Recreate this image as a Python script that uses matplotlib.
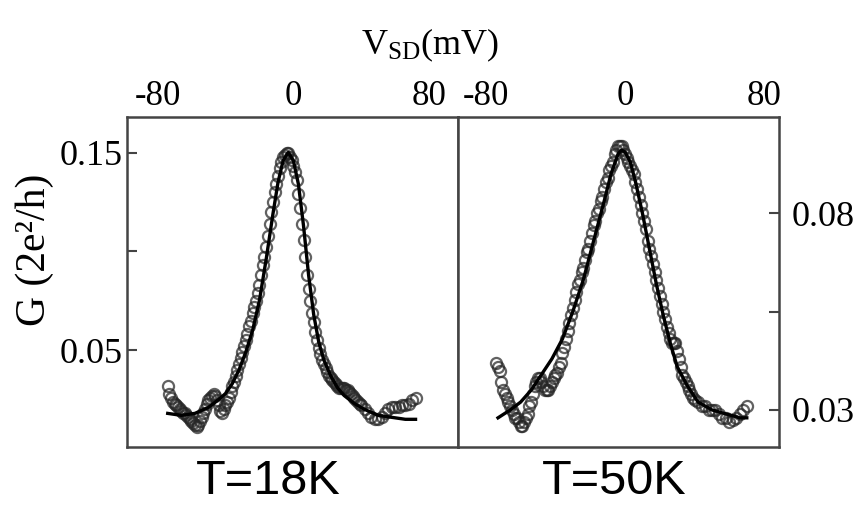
import matplotlib
matplotlib.use('Agg')
import matplotlib.pyplot as plt

plt.rcParams['font.family'] = 'serif'
plt.rcParams['font.serif'] = ['Liberation Serif', 'DejaVu Serif']
plt.rcParams['mathtext.fontset'] = 'custom'
plt.rcParams['mathtext.rm'] = 'Liberation Serif'
plt.rcParams['mathtext.it'] = 'Liberation Serif:italic'
plt.rcParams['axes.unicode_minus'] = False

# T = 18 K : measured points (V_SD in mV, G in 2e^2/h)
v18 = [-74, -73, -72, -71, -70, -69, -68, -67, -66, -65, -64, -63, -62, -61, -60, -59, -58, -57,
       -56, -55, -54, -53, -52, -51, -50, -49, -48, -47, -46, -45, -44, -43, -42, -41,
       -40, -39, -38, -37, -36, -35, -34, -33, -32, -31, -30, -29, -28, -27, -26, -25, -24, -23,
       -22, -21, -20, -19, -18, -17, -16, -15, -14, -13, -12, -11, -10, -9, -8, -7, -6, -5, -4,
       -3, -2, -1, 0, 1, 2, 3, 4, 5, 6, 7, 8, 9, 10, 11, 12, 13, 14, 15, 16, 17, 18, 19, 20,
       21, 22, 23, 24, 25, 26, 27, 28, 29, 30, 31, 32, 33, 34, 35, 36, 37, 38, 39, 40,
       42, 44, 46, 48, 50, 52, 54, 56, 58, 60, 62, 64, 66, 68, 70, 72]
g18 = [0.032, 0.028, 0.026, 0.024, 0.023, 0.022, 0.021, 0.020, 0.019, 0.018, 0.018, 0.017, 0.016,
       0.015, 0.014, 0.013, 0.012, 0.011, 0.012, 0.014, 0.016, 0.018, 0.020, 0.023, 0.025, 0.026,
       0.027, 0.028, 0.027, 0.025, 0.022, 0.019, 0.018, 0.020,
       0.022, 0.024, 0.026, 0.029, 0.032, 0.034, 0.037, 0.040, 0.043, 0.046, 0.049, 0.052, 0.055,
       0.058, 0.062, 0.065, 0.069, 0.072, 0.075, 0.079, 0.083, 0.088, 0.093, 0.097, 0.102, 0.108,
       0.114, 0.120, 0.125, 0.130, 0.134, 0.138, 0.142, 0.145, 0.148, 0.149, 0.150, 0.150, 0.148,
       0.146, 0.143, 0.140, 0.136, 0.129, 0.122, 0.114, 0.106, 0.097, 0.088, 0.081, 0.075, 0.069,
       0.064, 0.059, 0.055, 0.051, 0.048, 0.045, 0.043, 0.041, 0.039, 0.037, 0.036, 0.035, 0.034,
       0.033, 0.032, 0.031, 0.031, 0.031, 0.031, 0.030, 0.030, 0.029, 0.028, 0.027, 0.026, 0.025,
       0.024, 0.023, 0.022,
       0.020, 0.018, 0.016, 0.015, 0.015, 0.016, 0.018, 0.020, 0.021, 0.021, 0.021, 0.022, 0.022,
       0.023, 0.025, 0.026]

# T = 18 K : fit
fv18 = [-74, -66, -58, -50, -44, -40, -36, -32, -28, -24, -20, -16, -12, -9, -6, -3, 0, 3, 6, 9,
        12, 15, 18, 22, 26, 30, 36, 42, 50, 58, 66, 72]
fg18 = [0.018, 0.017, 0.018, 0.021, 0.025, 0.028, 0.033, 0.040, 0.049, 0.060, 0.075, 0.096, 0.119,
        0.135, 0.146, 0.150, 0.146, 0.134, 0.113, 0.088, 0.068, 0.054, 0.045, 0.037, 0.031, 0.027,
        0.023, 0.020, 0.017, 0.016, 0.015, 0.015]

# T = 50 K : measured points
v50 = [-74, -73, -72, -71, -70, -69, -68, -67, -66, -65, -64, -63, -62, -61, -60, -59, -58, -57,
       -56, -55, -54, -53, -52, -51, -50, -49, -48, -47, -46, -45, -44, -43, -42, -41,
       -40, -39, -38, -37, -36, -35, -34, -33, -32, -31, -30, -29, -28, -27, -26, -25, -24, -23,
       -22, -21, -20, -19, -18, -17, -16, -15, -14, -13, -12, -11, -10, -9, -8, -7, -6, -5, -4,
       -3, -2, -1, 0, 1, 2, 3, 4, 5, 6, 7, 8, 9, 10, 11, 12, 13, 14, 15, 16, 17, 18, 19, 20,
       21, 22, 23, 24, 25, 26, 27, 28, 29, 30, 31, 32, 33, 34, 35, 36, 37, 38, 39, 40,
       42, 44, 46, 48, 50, 52, 54, 56, 58, 60, 62, 64, 66, 68, 70]
g50 = [0.042, 0.041, 0.040, 0.037, 0.035, 0.034, 0.033, 0.032, 0.031, 0.030, 0.029, 0.028, 0.028,
       0.027, 0.026, 0.026, 0.027, 0.028, 0.029, 0.031, 0.032, 0.034, 0.036, 0.037, 0.038, 0.038,
       0.037, 0.036, 0.035, 0.035, 0.035, 0.036, 0.037, 0.038,
       0.039, 0.0394, 0.041, 0.042, 0.0445, 0.046, 0.048, 0.050, 0.052, 0.054, 0.056, 0.058, 0.060,
       0.062, 0.063, 0.065, 0.066, 0.068, 0.070, 0.071, 0.073, 0.075, 0.077, 0.078, 0.080, 0.081,
       0.083, 0.084, 0.086, 0.088, 0.089, 0.091, 0.092, 0.093, 0.095, 0.096, 0.097, 0.097, 0.097,
       0.096, 0.095, 0.094, 0.093, 0.092, 0.091, 0.090, 0.088, 0.086, 0.084, 0.082, 0.080, 0.078,
       0.076, 0.073, 0.071, 0.069, 0.067, 0.065, 0.063, 0.061, 0.059, 0.057, 0.055, 0.053, 0.051,
       0.0495, 0.048, 0.047, 0.047, 0.047, 0.045, 0.043, 0.041, 0.039, 0.038, 0.037, 0.036, 0.035,
       0.034, 0.033, 0.0325,
       0.032, 0.031, 0.031, 0.030, 0.030, 0.030, 0.029, 0.028, 0.028, 0.027, 0.0275, 0.028, 0.029,
       0.030, 0.031]

# T = 50 K : fit
fv50 = [-73, -66, -60, -54, -48, -42, -36, -30, -24, -18, -12, -8, -4, -2, 0, 3, 6, 10, 14, 18,
        22, 26, 30, 36, 42, 50, 58, 66, 70]
fg50 = [0.028, 0.030, 0.032, 0.035, 0.039, 0.043, 0.048, 0.055, 0.063, 0.073, 0.083, 0.090,
        0.095, 0.096, 0.0955, 0.093, 0.088, 0.080, 0.071, 0.062, 0.054, 0.047, 0.041, 0.036,
        0.032, 0.030, 0.029, 0.028, 0.028]

xticks = [-80, 0, 80]
spine_col = '#444444'


def panel(ax, v, g, fv, fg):
    ax.plot(v, g, 'o', ms=8, mfc='none', mec='#262626', mew=1.6, alpha=0.72)
    ax.plot(fv, fg, '-', color='black', lw=2.4)
    ax.xaxis.tick_top()
    ax.set_xticks(xticks)
    ax.set_xticks([0], minor=True)
    ax.tick_params(axis='x', which='major', length=0, labelsize=25, pad=3)
    ax.tick_params(axis='x', which='minor', direction='in', length=8, width=1.5,
                   color=spine_col, top=True, bottom=False)
    for s in ax.spines.values():
        s.set_color(spine_col)
        s.set_linewidth(1.8)


fig = plt.figure(figsize=(8.62, 5.12), dpi=100)
ax1 = fig.add_axes([0.1473, 0.127, 0.384, 0.6445])
ax2 = fig.add_axes([0.5313, 0.127, 0.3724, 0.6445])

panel(ax1, v18, g18, fv18, fg18)
ax1.set_xlim(-98, 97)
ax1.set_ylim(0.001, 0.168)
ax1.set_yticks([0.05, 0.15])
ax1.set_yticklabels(['0.05', '0.15'])
ax1.set_yticks([0.10], minor=True)
ax1.tick_params(axis='y', which='both', direction='in', length=7, width=1.5,
                color=spine_col, labelsize=26, pad=3)

panel(ax2, v50, g50, fv50, fg50)
ax2.set_xlim(-96, 88.5)
ax2.set_ylim(0.0206, 0.1044)
ax2.yaxis.tick_right()
ax2.set_yticks([0.03, 0.08])
ax2.set_yticklabels(['0.03', '0.08'])
ax2.set_yticks([0.055], minor=True)
ax2.tick_params(axis='y', which='both', direction='in', length=7, width=1.5,
                color=spine_col, labelsize=26, pad=9, left=False, right=True)

fig.text(0.499, 0.912, r'V$_{\rm SD}$(mV)', ha='center', va='center', fontsize=26)
fig.text(0.040, 0.512, 'G (2e\u00b2/h)', ha='center', va='center', rotation=90, fontsize=30)
fig.text(0.311, 0.059, 'T=18K', ha='center', va='center', fontsize=35,
         family='Liberation Sans')
fig.text(0.713, 0.059, 'T=50K', ha='center', va='center', fontsize=35,
         family='Liberation Sans')

plt.savefig('out.png', dpi=100)
